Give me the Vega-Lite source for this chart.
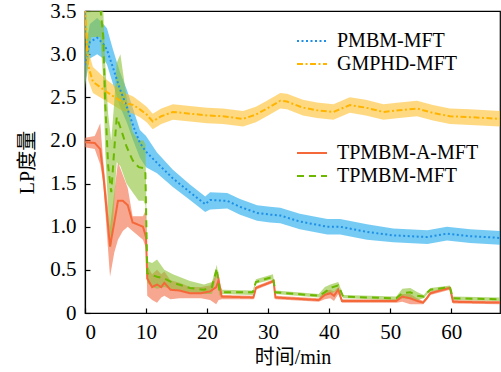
{
  "$schema": "https://vega.github.io/schema/vega-lite/v6.json",
  "width": 415,
  "height": 302,
  "autosize": {"type": "none"},
  "padding": {"left": 85, "top": 11, "right": 1, "bottom": 59},
  "background": "white",
  "config": {
    "view": {"stroke": "#000", "strokeWidth": 1.2},
    "font": "Liberation Serif, DejaVu Serif, serif",
    "axis": {
      "labelFont": "Liberation Serif, DejaVu Serif, serif",
      "labelFontSize": 21,
      "labelColor": "#000",
      "titleFont": "Liberation Serif, DejaVu Serif, Noto Sans CJK SC, serif",
      "titleFontSize": 20,
      "titleFontWeight": "normal",
      "titleColor": "#000",
      "domainColor": "#000",
      "domainWidth": 1.2,
      "tickColor": "#000",
      "tickWidth": 1.2,
      "grid": false,
      "tickSize": -5
    },
    "legend": {
      "labelFont": "Liberation Serif, DejaVu Serif, serif",
      "labelFontSize": 20,
      "labelColor": "#000",
      "symbolType": "M-1.5,0H1.5",
      "symbolSize": 400,
      "symbolStrokeWidth": 2,
      "labelOffset": 14,
      "rowPadding": 2,
      "padding": 0
    }
  },
  "data": {
    "values": [
      {"s": "PMBM-MFT", "t": 0, "y": 2.87, "lo": 2.65, "hi": 3.05},
      {"s": "PMBM-MFT", "t": 0.8, "y": 3.14, "lo": 2.95, "hi": 3.35},
      {"s": "PMBM-MFT", "t": 2, "y": 3.19, "lo": 3.0, "hi": 3.42},
      {"s": "PMBM-MFT", "t": 3, "y": 3.12, "lo": 2.95, "hi": 3.35},
      {"s": "PMBM-MFT", "t": 3.6, "y": 3.05, "lo": 2.88, "hi": 3.3},
      {"s": "PMBM-MFT", "t": 4.6, "y": 2.84, "lo": 2.65, "hi": 3.05},
      {"s": "PMBM-MFT", "t": 5.7, "y": 2.6, "lo": 2.4, "hi": 2.8},
      {"s": "PMBM-MFT", "t": 6.9, "y": 2.38, "lo": 2.2, "hi": 2.58},
      {"s": "PMBM-MFT", "t": 7.9, "y": 2.17, "lo": 2.0, "hi": 2.36},
      {"s": "PMBM-MFT", "t": 9, "y": 1.97, "lo": 1.8, "hi": 2.12},
      {"s": "PMBM-MFT", "t": 10, "y": 1.87, "lo": 1.69, "hi": 2.05},
      {"s": "PMBM-MFT", "t": 11.8, "y": 1.74, "lo": 1.62, "hi": 1.86},
      {"s": "PMBM-MFT", "t": 14.4, "y": 1.56, "lo": 1.46, "hi": 1.66},
      {"s": "PMBM-MFT", "t": 17.2, "y": 1.4, "lo": 1.31, "hi": 1.49},
      {"s": "PMBM-MFT", "t": 19.7, "y": 1.26, "lo": 1.17, "hi": 1.35},
      {"s": "PMBM-MFT", "t": 20.5, "y": 1.31, "lo": 1.2, "hi": 1.4},
      {"s": "PMBM-MFT", "t": 23.3, "y": 1.3, "lo": 1.21, "hi": 1.39},
      {"s": "PMBM-MFT", "t": 25.4, "y": 1.23, "lo": 1.14, "hi": 1.32},
      {"s": "PMBM-MFT", "t": 28.2, "y": 1.16, "lo": 1.07, "hi": 1.25},
      {"s": "PMBM-MFT", "t": 30.3, "y": 1.14, "lo": 1.05, "hi": 1.23},
      {"s": "PMBM-MFT", "t": 32, "y": 1.13, "lo": 1.04, "hi": 1.22},
      {"s": "PMBM-MFT", "t": 35.2, "y": 1.06, "lo": 0.97, "hi": 1.15},
      {"s": "PMBM-MFT", "t": 39.7, "y": 1.0, "lo": 0.91, "hi": 1.09},
      {"s": "PMBM-MFT", "t": 41.8, "y": 1.0, "lo": 0.91, "hi": 1.09},
      {"s": "PMBM-MFT", "t": 46.2, "y": 0.94, "lo": 0.85, "hi": 1.03},
      {"s": "PMBM-MFT", "t": 50.5, "y": 0.9, "lo": 0.82, "hi": 0.98},
      {"s": "PMBM-MFT", "t": 56.1, "y": 0.88, "lo": 0.8, "hi": 0.96},
      {"s": "PMBM-MFT", "t": 59.3, "y": 0.92, "lo": 0.84, "hi": 1.0},
      {"s": "PMBM-MFT", "t": 63.1, "y": 0.89, "lo": 0.81, "hi": 0.97},
      {"s": "PMBM-MFT", "t": 68, "y": 0.87, "lo": 0.79, "hi": 0.95},

      {"s": "GMPHD-MFT", "t": 0, "y": 3.55, "lo": 3.3, "hi": 3.7},
      {"s": "GMPHD-MFT", "t": 0.5, "y": 2.87, "lo": 2.7, "hi": 3.05},
      {"s": "GMPHD-MFT", "t": 1.3, "y": 2.68, "lo": 2.55, "hi": 2.85},
      {"s": "GMPHD-MFT", "t": 3.6, "y": 2.56, "lo": 2.45, "hi": 2.7},
      {"s": "GMPHD-MFT", "t": 6.2, "y": 2.44, "lo": 2.34, "hi": 2.56},
      {"s": "GMPHD-MFT", "t": 7.9, "y": 2.41, "lo": 2.31, "hi": 2.51},
      {"s": "GMPHD-MFT", "t": 9, "y": 2.36, "lo": 2.27, "hi": 2.45},
      {"s": "GMPHD-MFT", "t": 10.1, "y": 2.3, "lo": 2.21, "hi": 2.39},
      {"s": "GMPHD-MFT", "t": 11.1, "y": 2.22, "lo": 2.13, "hi": 2.31},
      {"s": "GMPHD-MFT", "t": 12.5, "y": 2.28, "lo": 2.19, "hi": 2.37},
      {"s": "GMPHD-MFT", "t": 14.4, "y": 2.33, "lo": 2.24, "hi": 2.42},
      {"s": "GMPHD-MFT", "t": 17.2, "y": 2.31, "lo": 2.22, "hi": 2.4},
      {"s": "GMPHD-MFT", "t": 20, "y": 2.29, "lo": 2.2, "hi": 2.38},
      {"s": "GMPHD-MFT", "t": 22.6, "y": 2.28, "lo": 2.19, "hi": 2.37},
      {"s": "GMPHD-MFT", "t": 25.9, "y": 2.25, "lo": 2.16, "hi": 2.34},
      {"s": "GMPHD-MFT", "t": 28, "y": 2.3, "lo": 2.21, "hi": 2.39},
      {"s": "GMPHD-MFT", "t": 29.8, "y": 2.37, "lo": 2.28, "hi": 2.46},
      {"s": "GMPHD-MFT", "t": 32, "y": 2.46, "lo": 2.37, "hi": 2.55},
      {"s": "GMPHD-MFT", "t": 33.1, "y": 2.45, "lo": 2.36, "hi": 2.54},
      {"s": "GMPHD-MFT", "t": 35.7, "y": 2.38, "lo": 2.29, "hi": 2.47},
      {"s": "GMPHD-MFT", "t": 38, "y": 2.35, "lo": 2.26, "hi": 2.44},
      {"s": "GMPHD-MFT", "t": 40.7, "y": 2.33, "lo": 2.24, "hi": 2.42},
      {"s": "GMPHD-MFT", "t": 43.4, "y": 2.41, "lo": 2.32, "hi": 2.5},
      {"s": "GMPHD-MFT", "t": 46, "y": 2.38, "lo": 2.29, "hi": 2.47},
      {"s": "GMPHD-MFT", "t": 48.9, "y": 2.33, "lo": 2.24, "hi": 2.42},
      {"s": "GMPHD-MFT", "t": 51.5, "y": 2.35, "lo": 2.26, "hi": 2.44},
      {"s": "GMPHD-MFT", "t": 54.4, "y": 2.37, "lo": 2.28, "hi": 2.46},
      {"s": "GMPHD-MFT", "t": 57, "y": 2.32, "lo": 2.23, "hi": 2.41},
      {"s": "GMPHD-MFT", "t": 59.8, "y": 2.28, "lo": 2.19, "hi": 2.37},
      {"s": "GMPHD-MFT", "t": 63.1, "y": 2.27, "lo": 2.18, "hi": 2.36},
      {"s": "GMPHD-MFT", "t": 68, "y": 2.25, "lo": 2.16, "hi": 2.34},

      {"s": "TPMBM-A-MFT", "t": 0, "y": 1.98, "lo": 1.92, "hi": 2.03},
      {"s": "TPMBM-A-MFT", "t": 1.6, "y": 1.97, "lo": 1.9, "hi": 2.05},
      {"s": "TPMBM-A-MFT", "t": 2.5, "y": 1.9, "lo": 1.72, "hi": 2.2},
      {"s": "TPMBM-A-MFT", "t": 3, "y": 1.6, "lo": 1.5, "hi": 1.75},
      {"s": "TPMBM-A-MFT", "t": 4.1, "y": 0.77, "lo": 0.42, "hi": 1.0},
      {"s": "TPMBM-A-MFT", "t": 4.8, "y": 1.05, "lo": 0.7, "hi": 1.4},
      {"s": "TPMBM-A-MFT", "t": 5.4, "y": 1.3, "lo": 0.85, "hi": 1.75},
      {"s": "TPMBM-A-MFT", "t": 6.2, "y": 1.3, "lo": 0.95, "hi": 1.6},
      {"s": "TPMBM-A-MFT", "t": 7, "y": 1.25, "lo": 1.0, "hi": 1.45},
      {"s": "TPMBM-A-MFT", "t": 7.8, "y": 1.05, "lo": 0.95, "hi": 1.12},
      {"s": "TPMBM-A-MFT", "t": 9.5, "y": 1.0, "lo": 0.85, "hi": 1.12},
      {"s": "TPMBM-A-MFT", "t": 10, "y": 0.88, "lo": 0.75, "hi": 1.2},
      {"s": "TPMBM-A-MFT", "t": 10.2, "y": 0.4, "lo": 0.2, "hi": 0.55},
      {"s": "TPMBM-A-MFT", "t": 11, "y": 0.3, "lo": 0.15, "hi": 0.45},
      {"s": "TPMBM-A-MFT", "t": 11.8, "y": 0.33, "lo": 0.12, "hi": 0.5},
      {"s": "TPMBM-A-MFT", "t": 12.5, "y": 0.3, "lo": 0.18, "hi": 0.45},
      {"s": "TPMBM-A-MFT", "t": 13, "y": 0.35, "lo": 0.2, "hi": 0.48},
      {"s": "TPMBM-A-MFT", "t": 14, "y": 0.27, "lo": 0.16, "hi": 0.38},
      {"s": "TPMBM-A-MFT", "t": 15.5, "y": 0.26, "lo": 0.17, "hi": 0.35},
      {"s": "TPMBM-A-MFT", "t": 17.2, "y": 0.23, "lo": 0.17, "hi": 0.3},
      {"s": "TPMBM-A-MFT", "t": 19, "y": 0.23, "lo": 0.17, "hi": 0.3},
      {"s": "TPMBM-A-MFT", "t": 20.5, "y": 0.25, "lo": 0.15, "hi": 0.32},
      {"s": "TPMBM-A-MFT", "t": 21.5, "y": 0.3, "lo": 0.1, "hi": 0.45},
      {"s": "TPMBM-A-MFT", "t": 21.9, "y": 0.38, "lo": 0.15, "hi": 0.45},
      {"s": "TPMBM-A-MFT", "t": 22.4, "y": 0.19, "lo": 0.16, "hi": 0.21},
      {"s": "TPMBM-A-MFT", "t": 27.6, "y": 0.18, "lo": 0.16, "hi": 0.2},
      {"s": "TPMBM-A-MFT", "t": 28, "y": 0.29, "lo": 0.27, "hi": 0.31},
      {"s": "TPMBM-A-MFT", "t": 30.9, "y": 0.37, "lo": 0.35, "hi": 0.39},
      {"s": "TPMBM-A-MFT", "t": 31.2, "y": 0.18, "lo": 0.16, "hi": 0.2},
      {"s": "TPMBM-A-MFT", "t": 38.3, "y": 0.15, "lo": 0.13, "hi": 0.17},
      {"s": "TPMBM-A-MFT", "t": 39.3, "y": 0.21, "lo": 0.16, "hi": 0.26},
      {"s": "TPMBM-A-MFT", "t": 40.2, "y": 0.23, "lo": 0.17, "hi": 0.27},
      {"s": "TPMBM-A-MFT", "t": 40.8, "y": 0.2, "lo": 0.14, "hi": 0.25},
      {"s": "TPMBM-A-MFT", "t": 41.5, "y": 0.27, "lo": 0.22, "hi": 0.3},
      {"s": "TPMBM-A-MFT", "t": 42.1, "y": 0.14, "lo": 0.12, "hi": 0.16},
      {"s": "TPMBM-A-MFT", "t": 51, "y": 0.14, "lo": 0.12, "hi": 0.16},
      {"s": "TPMBM-A-MFT", "t": 52, "y": 0.19, "lo": 0.13, "hi": 0.22},
      {"s": "TPMBM-A-MFT", "t": 53.3, "y": 0.17, "lo": 0.1, "hi": 0.22},
      {"s": "TPMBM-A-MFT", "t": 54.4, "y": 0.14, "lo": 0.1, "hi": 0.17},
      {"s": "TPMBM-A-MFT", "t": 55.4, "y": 0.12, "lo": 0.1, "hi": 0.14},
      {"s": "TPMBM-A-MFT", "t": 56, "y": 0.17, "lo": 0.15, "hi": 0.19},
      {"s": "TPMBM-A-MFT", "t": 56.6, "y": 0.23, "lo": 0.21, "hi": 0.25},
      {"s": "TPMBM-A-MFT", "t": 59.8, "y": 0.29, "lo": 0.27, "hi": 0.31},
      {"s": "TPMBM-A-MFT", "t": 60.3, "y": 0.13, "lo": 0.11, "hi": 0.15},
      {"s": "TPMBM-A-MFT", "t": 68, "y": 0.12, "lo": 0.1, "hi": 0.14},

      {"s": "TPMBM-MFT", "t": 0, "y": 3.5, "lo": 2.6, "hi": 3.8},
      {"s": "TPMBM-MFT", "t": 1, "y": 3.7, "lo": 3.2, "hi": 4.0},
      {"s": "TPMBM-MFT", "t": 2.5, "y": 3.55, "lo": 3.2, "hi": 3.8},
      {"s": "TPMBM-MFT", "t": 3, "y": 3.2, "lo": 2.7, "hi": 3.5},
      {"s": "TPMBM-MFT", "t": 3.3, "y": 2.45, "lo": 1.9, "hi": 2.9},
      {"s": "TPMBM-MFT", "t": 3.8, "y": 1.7, "lo": 1.2, "hi": 2.3},
      {"s": "TPMBM-MFT", "t": 4.3, "y": 1.4, "lo": 0.75, "hi": 2.0},
      {"s": "TPMBM-MFT", "t": 4.8, "y": 1.9, "lo": 1.3, "hi": 2.45},
      {"s": "TPMBM-MFT", "t": 5.2, "y": 2.27, "lo": 1.75, "hi": 2.9},
      {"s": "TPMBM-MFT", "t": 5.8, "y": 2.15, "lo": 1.7, "hi": 3.0},
      {"s": "TPMBM-MFT", "t": 6.8, "y": 1.93, "lo": 1.5, "hi": 2.5},
      {"s": "TPMBM-MFT", "t": 7.8, "y": 1.77, "lo": 1.4, "hi": 2.1},
      {"s": "TPMBM-MFT", "t": 8.8, "y": 1.69, "lo": 1.3, "hi": 2.0},
      {"s": "TPMBM-MFT", "t": 9.6, "y": 1.68, "lo": 1.3, "hi": 2.0},
      {"s": "TPMBM-MFT", "t": 9.9, "y": 1.62, "lo": 1.25, "hi": 1.95},
      {"s": "TPMBM-MFT", "t": 10.2, "y": 0.46, "lo": 0.35, "hi": 0.6},
      {"s": "TPMBM-MFT", "t": 11, "y": 0.44, "lo": 0.3, "hi": 0.58},
      {"s": "TPMBM-MFT", "t": 11.8, "y": 0.42, "lo": 0.28, "hi": 0.62},
      {"s": "TPMBM-MFT", "t": 13, "y": 0.4, "lo": 0.3, "hi": 0.5},
      {"s": "TPMBM-MFT", "t": 14.4, "y": 0.35, "lo": 0.27, "hi": 0.45},
      {"s": "TPMBM-MFT", "t": 17.2, "y": 0.29, "lo": 0.24, "hi": 0.37},
      {"s": "TPMBM-MFT", "t": 19.5, "y": 0.27, "lo": 0.22, "hi": 0.33},
      {"s": "TPMBM-MFT", "t": 20.8, "y": 0.3, "lo": 0.22, "hi": 0.36},
      {"s": "TPMBM-MFT", "t": 21.6, "y": 0.52, "lo": 0.45, "hi": 0.56},
      {"s": "TPMBM-MFT", "t": 22, "y": 0.27, "lo": 0.2, "hi": 0.33},
      {"s": "TPMBM-MFT", "t": 22.5, "y": 0.24, "lo": 0.22, "hi": 0.27},
      {"s": "TPMBM-MFT", "t": 27.5, "y": 0.24, "lo": 0.21, "hi": 0.26},
      {"s": "TPMBM-MFT", "t": 28, "y": 0.36, "lo": 0.34, "hi": 0.39},
      {"s": "TPMBM-MFT", "t": 30.8, "y": 0.42, "lo": 0.39, "hi": 0.45},
      {"s": "TPMBM-MFT", "t": 31.2, "y": 0.24, "lo": 0.22, "hi": 0.26},
      {"s": "TPMBM-MFT", "t": 38.3, "y": 0.2, "lo": 0.18, "hi": 0.22},
      {"s": "TPMBM-MFT", "t": 39.3, "y": 0.24, "lo": 0.2, "hi": 0.3},
      {"s": "TPMBM-MFT", "t": 40.2, "y": 0.29, "lo": 0.22, "hi": 0.33},
      {"s": "TPMBM-MFT", "t": 41.5, "y": 0.32, "lo": 0.27, "hi": 0.36},
      {"s": "TPMBM-MFT", "t": 42.3, "y": 0.19, "lo": 0.17, "hi": 0.21},
      {"s": "TPMBM-MFT", "t": 51, "y": 0.17, "lo": 0.15, "hi": 0.19},
      {"s": "TPMBM-MFT", "t": 52, "y": 0.23, "lo": 0.17, "hi": 0.28},
      {"s": "TPMBM-MFT", "t": 53.3, "y": 0.24, "lo": 0.16, "hi": 0.29},
      {"s": "TPMBM-MFT", "t": 54.5, "y": 0.2, "lo": 0.15, "hi": 0.24},
      {"s": "TPMBM-MFT", "t": 55.5, "y": 0.19, "lo": 0.17, "hi": 0.21},
      {"s": "TPMBM-MFT", "t": 56, "y": 0.23, "lo": 0.21, "hi": 0.25},
      {"s": "TPMBM-MFT", "t": 56.6, "y": 0.27, "lo": 0.25, "hi": 0.29},
      {"s": "TPMBM-MFT", "t": 59.8, "y": 0.3, "lo": 0.28, "hi": 0.32},
      {"s": "TPMBM-MFT", "t": 60.3, "y": 0.17, "lo": 0.15, "hi": 0.19},
      {"s": "TPMBM-MFT", "t": 68, "y": 0.16, "lo": 0.14, "hi": 0.18}
    ]
  },
  "layer": [
    {
      "mark": {"type": "area", "clip": true, "opacity": 0.6},
      "encoding": {
        "x": {"field": "t", "type": "quantitative", "scale": {"domain": [0, 68], "nice": false},
              "axis": {"values": [0, 10, 20, 30, 40, 50, 60], "title": "时间/min", "labelPadding": 13, "titlePadding": 5}},
        "y": {"field": "lo", "type": "quantitative", "scale": {"domain": [0, 3.5], "nice": false},
              "axis": {"values": [0, 0.5, 1, 1.5, 2, 2.5, 3, 3.5], "title": "LP度量", "labelPadding": 14, "titlePadding": 12,
                       "labelExpr": "datum.value == 0 ? '0' : format(datum.value, '.1f')"}},
        "y2": {"field": "hi"},
        "fill": {"field": "s", "type": "nominal",
                 "scale": {"domain": ["PMBM-MFT", "GMPHD-MFT", "TPMBM-A-MFT", "TPMBM-MFT"],
                           "range": ["#1aa8ec", "#ffc02e", "#f26a45", "#8cc234"]},
                 "legend": null}
      }
    },
    {
      "transform": [{"filter": "datum.s == 'PMBM-MFT' || datum.s == 'GMPHD-MFT'"}],
      "mark": {"type": "line", "clip": true, "strokeWidth": 2},
      "encoding": {
        "x": {"field": "t", "type": "quantitative"},
        "y": {"field": "y", "type": "quantitative"},
        "color": {"field": "s", "type": "nominal", "sort": null,
                  "scale": {"domain": ["PMBM-MFT", "GMPHD-MFT"], "range": ["#1e8fe6", "#ffb400"]},
                  "legend": {"title": null, "orient": "none", "legendX": 216, "legendY": 19}},
        "strokeDash": {"field": "s", "type": "nominal", "sort": null,
                  "scale": {"domain": ["PMBM-MFT", "GMPHD-MFT"], "range": [[2, 2.5], [6, 2.5, 2, 2.5]]},
                  "legend": {"title": null, "orient": "none", "legendX": 216, "legendY": 19}}
      }
    },
    {
      "transform": [{"filter": "datum.s == 'TPMBM-A-MFT' || datum.s == 'TPMBM-MFT'"}],
      "mark": {"type": "line", "clip": true, "strokeWidth": 2},
      "encoding": {
        "x": {"field": "t", "type": "quantitative"},
        "y": {"field": "y", "type": "quantitative"},
        "color": {"field": "s", "type": "nominal", "sort": null,
                  "scale": {"domain": ["TPMBM-A-MFT", "TPMBM-MFT"], "range": ["#f5683a", "#6cb800"]},
                  "legend": {"title": null, "orient": "none", "legendX": 216, "legendY": 131}},
        "strokeDash": {"field": "s", "type": "nominal", "sort": null,
                  "scale": {"domain": ["TPMBM-A-MFT", "TPMBM-MFT"], "range": [[1, 0], [7, 5]]},
                  "legend": {"title": null, "orient": "none", "legendX": 216, "legendY": 131}}
      }
    }
  ],
  "resolve": {"scale": {"color": "independent", "strokeDash": "independent", "fill": "independent"}}
}
